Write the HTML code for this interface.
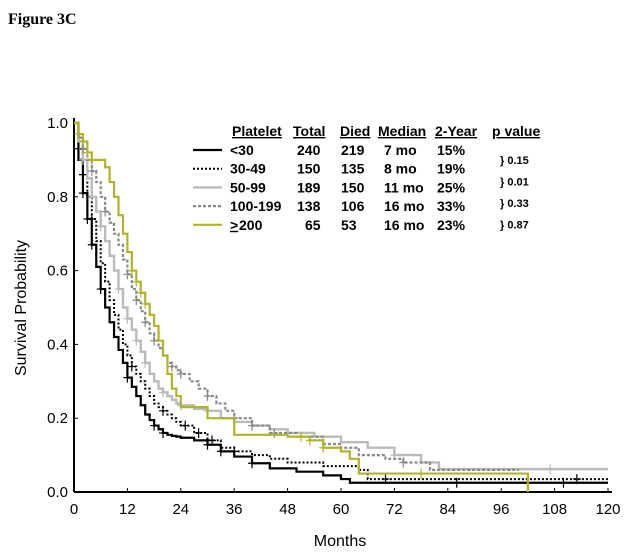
<!DOCTYPE html>
<html><head><meta charset="utf-8"><style>
body{margin:0;background:#fff;width:632px;height:553px;overflow:hidden}
svg{display:block}
text{font-family:"Liberation Sans",Arial,sans-serif}
</style></head><body>
<svg id="chart" width="632" height="553">
<text x="8" y="24" font-weight="bold" font-size="16" style="font-family:'Liberation Serif',serif">Figure 3C</text>
<g id="axes"></g>
<g id="series"></g>
<g id="legend"></g>
</svg>
<script>
const xTicks=[0,12,24,36,48,60,72,84,96,108,120];
const yTicks=[0,0.2,0.4,0.6,0.8,1.0];
const names=["<30","30-49","50-99","100-199","≥200"];
const totals=[240,150,189,138,65];
const died=[219,135,150,106,53];
const medians=["7 mo","8 mo","11 mo","16 mo","16 mo"];
const twoYear=["15%","19%","25%","33%","23%"];
const pValues=["0.15","0.01","0.33","0.87"];
const early=[0,1,2,3,4,5,6,7,8,9,10,11,12,13,14,15,16,17,18,19,20,21,22,23,24];
const t0=early.concat([27,30,33,36,40,44,50,56,60,62,120]);
const s0=[1,0.9,0.81,0.74,0.67,0.61,0.55,0.5,0.46,0.42,0.385,0.35,0.31,0.285,0.26,0.235,0.21,0.195,0.18,0.17,0.16,0.155,0.152,0.15,0.147,0.14,0.128,0.11,0.096,0.078,0.064,0.055,0.045,0.035,0.025,0.025];
const t1=early.concat([27,30,33,36,40,44,48,56,64,66,120]);
const s1=[1,0.93,0.86,0.8,0.74,0.68,0.62,0.57,0.52,0.48,0.44,0.4,0.37,0.34,0.32,0.3,0.28,0.26,0.24,0.23,0.22,0.21,0.2,0.19,0.18,0.16,0.14,0.12,0.11,0.1,0.09,0.08,0.07,0.06,0.035,0.035];
const t2=early.concat([27,30,33,36,40,44,48,54,60,66,72,78,82,120]);
const s2=[1,0.95,0.9,0.85,0.8,0.76,0.72,0.68,0.64,0.6,0.55,0.5,0.47,0.44,0.41,0.38,0.35,0.32,0.3,0.28,0.27,0.26,0.25,0.24,0.235,0.225,0.22,0.2,0.19,0.18,0.17,0.16,0.15,0.135,0.12,0.1,0.08,0.062,0.062];
const t3=early.concat([26,28,30,32,34,36,40,44,50,56,60,64,70,74,80,100]);
const s3=[1,0.96,0.93,0.9,0.87,0.84,0.8,0.76,0.73,0.7,0.67,0.63,0.59,0.55,0.52,0.49,0.46,0.43,0.41,0.39,0.37,0.35,0.34,0.33,0.32,0.3,0.28,0.26,0.24,0.22,0.2,0.18,0.16,0.15,0.13,0.12,0.1,0.09,0.08,0.06,0.06];
const t4=[0,1,2,3,4,7,8,9,10,11,12,13,14,15,16,17,18,19,20,21,22,23,24,30,36,48,53,56,60,62,64,102,102];
const s4=[1,0.97,0.95,0.92,0.9,0.88,0.84,0.8,0.75,0.7,0.65,0.6,0.57,0.54,0.51,0.48,0.45,0.41,0.37,0.32,0.28,0.26,0.23,0.2,0.155,0.15,0.14,0.12,0.11,0.09,0.05,0.05,0];
const c0=[2,3,4,6,12,18,20,30,33,40,86,110];
const c1=[1,2,4,13,20,25,28,31,36,70,113];
const c2=[2,4,6,10,12,14,16,20,24,30,72,107];
const c3=[2,4,7,12,14,16,18,22,24,30,36,40,45,74];
const c4=[1,2,3,4,13,14,15,16,51,53,56,78];
const X=v=>74+v*(608-74)/120, Y=v=>492-v*(492-123);
const NS="http://www.w3.org/2000/svg";
function mk(tag,attrs,parent){const e=document.createElementNS(NS,tag);for(const k in attrs)e.setAttribute(k,attrs[k]);parent.appendChild(e);return e;}
const ax=document.getElementById('axes');
let a=mk('line',{x1:74,y1:492,x2:612,y2:492,stroke:'#000','stroke-width':2},ax);


a=mk('line',{x1:74,y1:118,x2:74,y2:492,stroke:'#000','stroke-width':2},ax);


xTicks.forEach(v=>{mk('line',{x1:X(v),y1:488,x2:X(v),y2:492,stroke:'#000'},ax);
const t=mk('text',{x:X(v),y:514,'text-anchor':'middle','font-size':15},ax);t.textContent=v;

});
yTicks.forEach(v=>{mk('line',{x1:74,y1:Y(v),x2:78,y2:Y(v),stroke:'#000'},ax);
const t=mk('text',{x:68,y:Y(v)+5,'text-anchor':'end','font-size':15},ax);t.textContent=v.toFixed(1);

});
let t=mk('text',{x:340,y:546,'text-anchor':'middle','font-size':16},ax);t.textContent='Months';


t=mk('text',{x:0,y:0,'text-anchor':'middle','font-size':16,transform:'translate(26,308) rotate(-90)'},ax);t.textContent='Survival Probability';


const styles=[{stroke:'#000',w:2.2,d:''},{stroke:'#000',w:2,d:'2,2'},{stroke:'#bbb',w:2.4,d:''},{stroke:'#888',w:2.2,d:'3,2'},{stroke:'#b0b42a',w:2.2,d:''}];
const ser=[[t0,s0,c0],[t1,s1,c1],[t2,s2,c2],[t3,s3,c3],[t4,s4,c4]];
const sg=document.getElementById('series');
function surv(ts,ss,x){let v=ss[0];for(let i=0;i<ts.length;i++){if(ts[i]<=x)v=ss[i];}return v;}
ser.forEach((s,i)=>{const [ts,ss,cs]=s;const st=styles[i];
let d='M'+X(ts[0])+','+Y(ss[0]);
for(let k=1;k<ts.length;k++){d+=' H'+X(ts[k])+' V'+Y(ss[k]);}
const p=mk('path',{d:d,fill:'none',stroke:st.stroke,'stroke-width':st.w,'stroke-dasharray':st.d},sg);


cs.forEach(c=>{const cx=X(c),cy=Y(surv(ts,ss,c));
const m=mk('path',{d:`M${cx-4},${cy} H${cx+4} M${cx},${cy-5} V${cy+5}`,stroke:st.stroke,'stroke-width':1.2},sg);

});});
const lg=document.getElementById('legend');
const cols=[232,293,340,378,435,492];
const heads=["Platelet","Total","Died","Median","2-Year","p value"];
heads.forEach((h,i)=>{const e=mk('text',{x:cols[i],y:136,'font-size':14,'font-weight':'bold','text-decoration':'underline'},lg);e.textContent=h;

});
names.forEach((n,i)=>{const y=155+i*18.7;const st=styles[i];
const l=mk('line',{x1:193,y1:y-5,x2:222,y2:y-5,stroke:st.stroke,'stroke-width':st.w,'stroke-dasharray':st.d},lg);


const vals=[n,totals[i],died[i],medians[i],twoYear[i]];
const xs=[230,297,341,384,437];
vals.forEach((v,j)=>{const e=mk('text',{x:xs[j],y:y,'font-size':14,'font-weight':'bold'},lg);e.textContent=v;
if(j==0&&i==4){e.textContent='200';mk('text',{x:230,y:y,'font-size':14,'font-weight':'bold','text-decoration':'underline'},lg).textContent='>';e.setAttribute('x',239);}
if(j==1&&i==4)e.setAttribute('x',305);

});});
pValues.forEach((p,i)=>{const e=mk('text',{x:500,y:164+i*21.5,'font-size':11,'font-weight':'bold'},lg);e.textContent='} '+p;

});
</script>
</body></html>
